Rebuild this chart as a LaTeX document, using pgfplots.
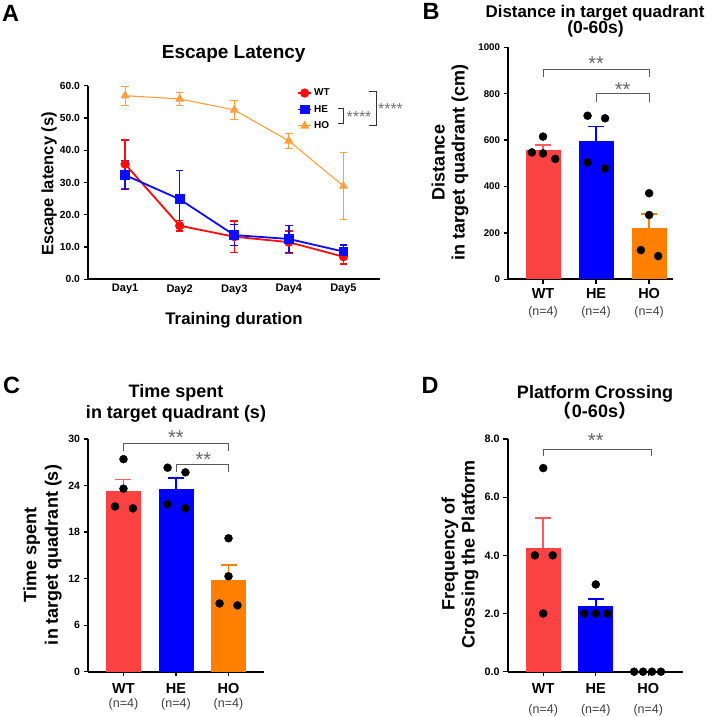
\documentclass[border=0pt]{standalone}
\usepackage{pgfplots}
\pgfplotsset{compat=1.18}
\usepackage{fontspec}
\setmainfont{Liberation Sans}
\newfontfamily\cjk{Noto Sans CJK SC}
\newcommand{\fs}[2]{\fontsize{#1}{#2}\selectfont}
\definecolor{wtA}{RGB}{255,12,12}
\definecolor{heA}{RGB}{12,12,255}
\definecolor{hoA}{RGB}{255,160,60}
\definecolor{barR}{RGB}{250,66,66}
\definecolor{barRe}{RGB}{255,90,90}
\definecolor{barB}{RGB}{0,0,255}
\definecolor{barO}{RGB}{255,128,0}
\definecolor{brk}{RGB}{90,90,90}
\newcommand{\nlab}[2]{#1\\[#2]{\mdseries\fs{12.5}{12.5}\color{black!75}(n=4)}}
\pgfplotsset{
 base/.style={scale only axis, anchor=south west, axis x line*=bottom, axis y line*=left,
   axis line style={line width=2pt,-}, tick style={line width=1.3pt, black},
   tick align=outside, major tick length=4.5pt, clip=false,
   /pgf/number format/assume math mode=true, /pgf/number format/1000 sep={},
   ticklabel style={font=\bfseries\fs{10.3}{12}}, minor tick num=0},
 catx/.style={xtick={0,1,2}, xticklabel style={align=center, font=\bfseries\fs{14.5}{14.5}}},
 barsty/.style={ybar, bar width=35pt, bar shift=0pt, draw=none, fill=#1},
 errsty/.style={error bars/.cd, y dir=plus, y explicit,
   error bar style={line width=1.6pt, color=#1},
   error mark options={rotate=90, line width=1.6pt, color=#1, mark size=8pt}},
 pts/.style={only marks, mark=*, mark size=4pt, black, mark options={fill=black}},
 brk/.style={brk, line width=1pt},
}
\begin{document}
\begin{tikzpicture}
\path[use as bounding box] (0pt,0pt) rectangle (708pt,717pt);

% ---------------- Panel A ----------------
\begin{axis}[base, at={(88pt,437.7pt)}, width=292pt, height=193.6pt,
  xmin=0.32, xmax=5.67, ymin=0, ymax=60,
  ytick={0,10,...,60},
  yticklabel style={/pgf/number format/.cd, fixed, fixed zerofill, precision=1},
  xtick={1,2,3,4,5}, xticklabels={Day1,Day2,Day3,Day4,Day5},
  xticklabel style={font=\bfseries\fs{11}{12}, yshift=3pt},
  x tick style={draw=none},
  legend style={at={(0.716,0.995)}, anchor=north west, draw=none, fill=none,
    font=\bfseries\fs{10}{11}, row sep=4pt, inner sep=0pt},
  legend cell align=left,
  legend image code/.code={\draw[#1, mark repeat=2, mark phase=2] plot coordinates {(0pt,0pt) (6.5pt,0pt) (13pt,0pt)};},
]
\addplot[color=wtA, line width=1.8pt, mark=*, mark size=3.7pt, mark options={solid, fill=wtA},
  error bars/.cd, y dir=both, y explicit, error bar style={line width=1.5pt, color=wtA},
  error mark options={rotate=90, line width=1.5pt, color=wtA, mark size=3.8pt}]
  coordinates {(1,35.7) +- (0,7.5) (2,16.6) +- (0,1.6) (3,13.2) +- (0,4.9) (4,11.5) +- (0,3.4) (5,7.0) +- (0,2.2)};
\addlegendentry{WT}
\addplot[color=heA, line width=1.8pt, mark=square*, mark size=4pt, mark options={solid, fill=heA},
  error bars/.cd, y dir=both, y explicit, error bar style={line width=1.5pt, color=heA},
  error mark options={rotate=90, line width=1.5pt, color=heA, mark size=3.8pt}]
  coordinates {(1,32.3) +- (0,4.5) (2,24.8) +- (0,8.9) (3,13.7) +- (0,3.3) (4,12.5) +- (0,4.2) (5,8.6) +- (0,2.1)};
\addlegendentry{HE}
\addplot[color=hoA, line width=1.1pt, mark=triangle*, mark size=4.2pt, mark options={solid, fill=hoA},
  error bars/.cd, y dir=both, y explicit, error bar style={line width=1pt, color=hoA},
  error mark options={rotate=90, line width=1pt, color=hoA, mark size=3.8pt}]
  coordinates {(1,56.9) +- (0,3.0) (2,55.9) +- (0,2.1) (3,52.5) +- (0,3.0) (4,42.9) +- (0,2.3) (5,28.9) +- (0,10.3)};
\addlegendentry{HO}
\end{axis}
\node[font=\bfseries\fs{23.5}{24}, anchor=base, inner sep=0pt] at (10.5pt,695.3pt) {A};
\node[font=\bfseries\fs{19}{20}, anchor=base, inner sep=0pt] at (233.7pt,658.7pt) {Escape Latency};
\node[font=\bfseries\fs{16.8}{18}, anchor=base, inner sep=0pt] at (234pt,392pt) {Training duration};
\node[font=\bfseries\fs{16.5}{18}, rotate=90, inner sep=0pt] at (49pt,533pt) {Escape latency (s)};
\draw[line width=0.9pt, black!80] (338pt,608.7pt) -- (343.3pt,608.7pt) -- (343.3pt,593.7pt) -- (338pt,593.7pt);
\node[text=black!55, font=\fs{16}{16}, anchor=base, inner sep=0pt] at (359pt,594.4pt) {****};
\draw[line width=0.9pt, black!80] (369pt,625.3pt) -- (376pt,625.3pt) -- (376pt,592pt) -- (369pt,592pt);
\node[text=black!55, font=\fs{16}{16}, anchor=base, inner sep=0pt] at (390.5pt,602pt) {****};

% ---------------- Panel B ----------------
\begin{axis}[base, catx, at={(508pt,437.7pt)}, width=165pt, height=232pt,
  xmin=-0.66, xmax=2.45, ymin=0, ymax=1000, ytick={0,200,...,1000},
  yticklabel style={font=\bfseries\fs{9.7}{11}},
  xticklabel style={yshift=-1.5pt},
  xticklabels={{\nlab{WT}{2.5pt}},{\nlab{HE}{2.5pt}},{\nlab{HO}{2.5pt}}},
]
\addplot[barsty=barR, errsty=barRe] coordinates {(0,557) +- (0,21)};
\addplot[barsty=barB, errsty=barB] coordinates {(1,597) +- (0,61)};
\addplot[barsty=barO] coordinates {(2,219)};
\addplot[pts] coordinates {(0,615) (-0.21,547) (0,543) (0.23,519)};
\addplot[pts] coordinates {(0.84,705) (1.17,694) (0.84,504) (1.17,478)};
\addplot[pts] coordinates {(2,371) (2,277) (1.845,126) (2.17,100)};
\addplot[forget plot, draw=none, mark=none, errsty=barO] coordinates {(2,219) +- (0,63)};
\draw[brk] (axis cs:0,870) -- (axis cs:0,905) -- (axis cs:2,905) -- (axis cs:2,870);
\draw[brk] (axis cs:1,766) -- (axis cs:1,802) -- (axis cs:2,802) -- (axis cs:2,766);
\node[text=black!60, font=\fs{20}{20}, anchor=base, inner sep=0pt, yshift=-11.6pt] at (axis cs:1,952) {**};
\node[text=black!60, font=\fs{20}{20}, anchor=base, inner sep=0pt, yshift=-11.6pt] at (axis cs:1.5,837) {**};
\end{axis}
\node[font=\bfseries\fs{23.5}{24}, anchor=base, inner sep=0pt] at (431pt,697pt) {B};
\node[font=\bfseries\fs{16.9}{20}, anchor=base, inner sep=0pt] at (595pt,699.5pt) {Distance in target quadrant};
\node[font=\bfseries\fs{17.5}{20}, anchor=base, inner sep=0pt] at (595.5pt,683.5pt) {(0-60s)};
\node[font=\bfseries\fs{18}{20}, rotate=90, align=center, inner sep=0pt] at (450pt,554.5pt) {Distance\\in target quadrant (cm)};

% ---------------- Panel C ----------------
\begin{axis}[base, catx, at={(88pt,45.3pt)}, width=176pt, height=232.7pt,
  xmin=-0.676, xmax=2.676, ymin=0, ymax=30, ytick={0,6,...,30},
  yticklabel style={font=\bfseries\fs{10.5}{12}},
  xticklabel style={yshift=-3.5pt},
  xticklabels={{\nlab{WT}{0pt}},{\nlab{HE}{0pt}},{\nlab{HO}{0pt}}},
]
\addplot[barsty=barR, errsty=barRe] coordinates {(0,23.3) +- (0,1.5)};
\addplot[barsty=barB, errsty=barB] coordinates {(1,23.6) +- (0,1.4)};
\addplot[barsty=barO, errsty=barO] coordinates {(2,11.8) +- (0,1.95)};
\addplot[pts] coordinates {(0,27.4) (0,23.6) (-0.16,21.3) (0.18,21.06)};
\addplot[pts] coordinates {(0.84,26.3) (1.18,25.7) (0.84,21.6) (1.18,21.06)};
\addplot[pts] coordinates {(2,17.2) (2,12.3) (1.83,8.8) (2.17,8.55)};
\draw[brk] (axis cs:0,28.5) -- (axis cs:0,29.45) -- (axis cs:2,29.45) -- (axis cs:2,28.5);
\draw[brk] (axis cs:1,25.7) -- (axis cs:1,26.7) -- (axis cs:2,26.7) -- (axis cs:2,25.7);
\node[text=black!60, font=\fs{20}{20}, anchor=base, inner sep=0pt, yshift=-11.6pt] at (axis cs:1,30.74) {**};
\node[text=black!60, font=\fs{20}{20}, anchor=base, inner sep=0pt, yshift=-11.6pt] at (axis cs:1.52,27.9) {**};
\end{axis}
\node[font=\bfseries\fs{23.5}{24}, anchor=base, inner sep=0pt] at (11.7pt,323.7pt) {C};
\node[font=\bfseries\fs{18}{20}, anchor=base, inner sep=0pt] at (176pt,319.3pt) {Time spent};
\node[font=\bfseries\fs{18}{20}, anchor=base, inner sep=0pt] at (176pt,298.7pt) {in target quadrant (s)};
\node[font=\bfseries\fs{18}{21.6}, rotate=90, align=center, inner sep=0pt] at (42.5pt,162pt) {Time spent\\in target quadrant (s)};

% ---------------- Panel D ----------------
\begin{axis}[base, catx, at={(507.7pt,45.3pt)}, width=175.3pt, height=232.7pt,
  xmin=-0.676, xmax=2.66, ymin=0, ymax=8, ytick={0,2,...,8},
  yticklabel style={font=\bfseries\fs{10.8}{12}, /pgf/number format/.cd, fixed, fixed zerofill, precision=1},
  xticklabel style={yshift=-3.5pt},
  xticklabels={{\nlab{WT}{5.5pt}},{\nlab{HE}{5.5pt}},{\nlab{HO}{5.5pt}}},
]
\addplot[barsty=barR, errsty=barRe] coordinates {(0,4.25) +- (0,1.03)};
\addplot[barsty=barB, errsty=barB] coordinates {(1,2.25) +- (0,0.25)};
\addplot[pts] coordinates {(0,7) (-0.16,4) (0.18,4) (0,2)};
\addplot[pts] coordinates {(1,3) (0.78,2) (1,2) (1.22,2)};
\addplot[pts] coordinates {(1.73,0) (1.9,0) (2.07,0) (2.24,0)};
\draw[brk] (axis cs:0,7.42) -- (axis cs:0,7.66) -- (axis cs:2.05,7.66) -- (axis cs:2.05,7.42);
\node[text=black!60, font=\fs{20}{20}, anchor=base, inner sep=0pt, yshift=-11.6pt] at (axis cs:1,8.11) {**};
\end{axis}
\node[font=\bfseries\fs{23.5}{24}, anchor=base, inner sep=0pt] at (430pt,323.7pt) {D};
\node[font=\bfseries\fs{18}{20}, anchor=base, inner sep=0pt] at (595pt,318.7pt) {Platform Crossing};
\node[font=\bfseries\fs{18}{20}, anchor=base, inner sep=0pt] at (595pt,299.7pt) {{\cjk （}0-60s{\cjk ）}};
\node[font=\bfseries\fs{18}{20}, rotate=90, align=center, inner sep=0pt] at (460pt,163pt) {Frequency of\\Crossing the Platform};
\end{tikzpicture}
\end{document}
